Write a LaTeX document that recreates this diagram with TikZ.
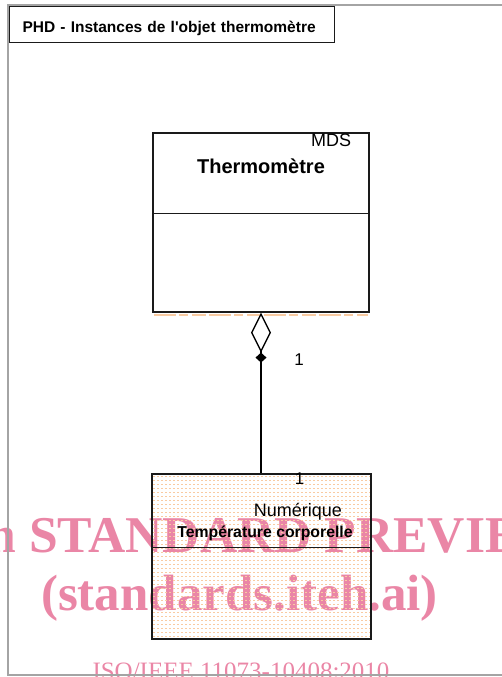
\documentclass[tikz,border=0pt]{standalone}
\usepackage{fontspec}
\setmainfont{Liberation Sans}
\newfontfamily\wmserif{Liberation Serif}
\usepackage{tikz}
\usetikzlibrary{arrows.meta, positioning, backgrounds}
\usepackage{xcolor}
\definecolor{framegray}{HTML}{A4A4A4}
\definecolor{wmpink}{HTML}{E8799C}
\definecolor{dotorange}{HTML}{F9CBA2}
\definecolor{lineblack}{HTML}{1A1A1A}

\begin{document}
\begin{tikzpicture}[
  x=1pt, y=-1pt,
  font=\fontsize{18}{20}\selectfont,
  classbox/.style={draw=lineblack, line width=1.2pt, inner sep=0pt,
                   minimum width=216pt},
  tabbox/.style={draw=lineblack, line width=1.2pt, anchor=north west,
                 minimum width=325pt, minimum height=36pt, inner xsep=13pt,
                 text width=299pt, align=left, text height=16pt, text depth=0pt,
                 font=\fontsize{15.5}{18}\selectfont\bfseries},
  divider/.style={draw=lineblack, line width=1.2pt},
  dotrow/.style={draw=dotorange, line width=1pt, dash pattern=on 2pt off 2pt},
  frameline/.style={draw=framegray, line width=2pt},
  multlabel/.style={anchor=base, font=\fontsize{17}{19}\selectfont},
  aggr/.style={line width=2pt, draw=black,
               {Diamond[open, length=40pt, width=20pt, line width=1.3pt]Diamond[length=10pt, width=11pt]}-},
  watermark/.style={anchor=base, text=wmpink, opacity=0.9}
]
\useasboundingbox (0,0) rectangle (502,677);
\clip (0,0) rectangle (502,677);

% ---------------- Frame and tab ----------------
\draw[frameline] (510,5) -- (8,5) -- (8,675) -- (510,675);
\node[tabbox] (tab) at (9,6) {PHD - Instances de l\textquotesingle objet thermomètre};

% ---------------- Thermometer class ----------------
\node[classbox, minimum height=179pt] (thermo) at (261,222.5) {};
\draw[divider] ([yshift=-81pt]thermo.north west) -- ([yshift=-81pt]thermo.north east);
\node[anchor=base east] (mds) at ([xshift=-15pt, yshift=-14pt]thermo.north east) {MDS};
\node[anchor=base, font=\fontsize{20}{22}\selectfont\bfseries] (thermoname)
  at ([yshift=-41pt]thermo.north) {Thermomètre};
\draw[dotorange, line width=2pt, dash pattern=on 22pt off 3pt on 9pt off 4pt on 14pt off 3pt]
  ([xshift=2pt, yshift=-2pt]thermo.south west) -- ([xshift=-2pt, yshift=-2pt]thermo.south east);

% ---------------- Numeric temperature class ----------------
\node[classbox, minimum width=219pt, minimum height=165pt] (numeric) at (261.5,556.5) {};
\foreach \dy in {3,7,...,163}
  \draw[dotrow] ([xshift=2pt, yshift=-\dy pt]numeric.north west)
             -- ([xshift=-2pt, yshift=-\dy pt]numeric.north east);
\draw[divider] ([yshift=-74pt]numeric.north west) -- ([yshift=-74pt]numeric.north east);
\node[anchor=base] (numlabel) at ([xshift=36.5pt, yshift=-43pt]numeric.north) {Numérique};
\node[anchor=base, font=\fontsize{15.8}{18}\selectfont\bfseries] (tempname)
  at ([xshift=3.5pt, yshift=-64pt]numeric.north) {Température corporelle};

% ---------------- Aggregation ----------------
\draw[aggr] (thermo.south) -- (thermo.south |- numeric.north);
\node[multlabel] (multtop) at ([xshift=38pt, yshift=-53pt]thermo.south) {1};
\node[multlabel] (multlow) at ([xshift=38pt, yshift=-11pt]numeric.north) {1};

% ---------------- Watermark ----------------
\begin{scope}[on background layer]
  \node[watermark, font=\fontsize{51.6}{53}\selectfont\wmserif\bfseries] (wmone)
    at (246,552) {iTeh STANDARD PREVIEW};
  \node[watermark, font=\fontsize{51}{53}\selectfont\wmserif\bfseries] (wmtwo)
    at (239.5,610) {(standards.iteh.ai)};
  \node[watermark, font=\fontsize{25}{26}\selectfont\wmserif] (wmthree)
    at (241,679) {ISO/IEEE 11073-10408:2010};
\end{scope}

\end{tikzpicture}
\end{document}
